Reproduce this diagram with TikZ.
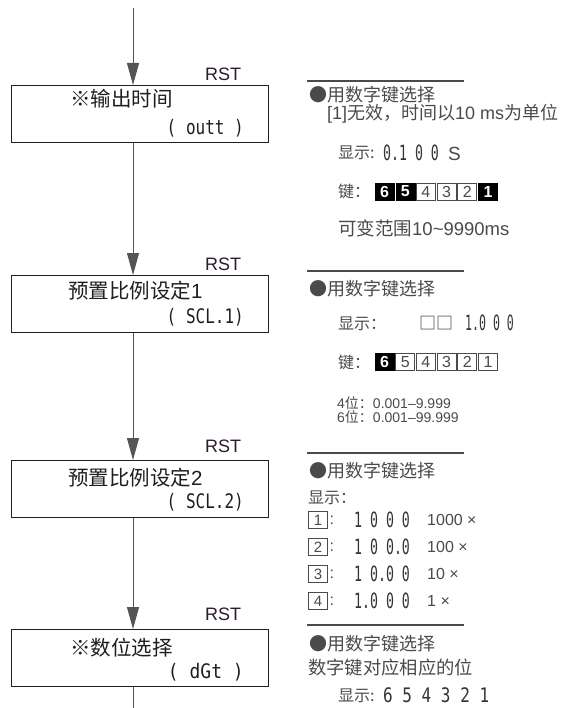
\documentclass[tikz,border=0pt]{standalone}
\usepackage{fontspec}
\usepackage{graphicx}
\setmainfont{Liberation Sans}
\newfontfamily\cjk{Noto Sans CJK SC}
\newfontfamily\segf{DejaVu Sans Mono}
\usetikzlibrary{arrows.meta}
\definecolor{boxtxt}{HTML}{1E1E1E}
\definecolor{paneltxt}{HTML}{4A4A4A}
\definecolor{segc}{HTML}{333333}
\definecolor{linec}{HTML}{555555}
\newcommand{\zh}[1]{{\cjk #1}}
\newcommand{\segtext}[3]{\scalebox{#1}[1]{\fontsize{#2}{#2}\segf #3}}
\begin{document}
\begin{tikzpicture}[x=1pt,y=-1pt,
  flowbox/.style={draw=boxtxt,line width=1pt,minimum width=257pt,minimum height=57pt,inner sep=0pt},
  boxlabel/.style={anchor=base west,inner sep=0pt,text=boxtxt,font=\fontsize{20.5}{20.5}\selectfont},
  segbox/.style={anchor=east,inner sep=0pt,text=boxtxt},
  rstlabel/.style={anchor=west,inner sep=0pt,text=boxtxt!85!violet,font=\fontsize{18}{18}\selectfont},
  ptxt/.style={anchor=base west,inner sep=0pt,text=paneltxt,font=\fontsize{18}{18}\selectfont},
  pmid/.style={anchor=base west,inner sep=0pt,text=paneltxt,font=\fontsize{16}{16}\selectfont},
  psmall/.style={anchor=base west,inner sep=0pt,text=paneltxt,font=\fontsize{14}{14}\selectfont},
  panelrule/.style={draw=paneltxt,line width=1.2pt},
  flow/.style={draw=linec,line width=1pt},
  flowarrow/.style={flow,-{Triangle[length=22pt,width=12pt]}},
  keyon/.style={fill=black,draw=black,text=white,minimum width=19pt,minimum height=17pt,inner sep=0pt,font=\bfseries\fontsize{16}{16}\selectfont},
  keyoff/.style={fill=white,draw=paneltxt,line width=0.8pt,text=paneltxt,minimum width=19pt,minimum height=17pt,inner sep=0pt,font=\fontsize{16}{16}\selectfont},
  numbox/.style={draw=paneltxt,line width=0.8pt,text=paneltxt,minimum width=19pt,minimum height=17pt,inner sep=0pt,font=\fontsize{15}{15}\selectfont},
  segnum/.style={anchor=base west,inner sep=0pt,text=segc}
]
\path[use as bounding box] (0,0) rectangle (567,708);
% flow boxes
\node[flowbox] (b1) at (139.5,114) {};
\node[flowbox] (b2) at (139.5,304) {};
\node[flowbox] (b3) at (139.5,489) {};
\node[flowbox] (b4) at (139.5,658) {};
\coordinate (top) at (133,8);
\coordinate (bot) at (133,708);
\draw[flowarrow] (top) -- (top |- b1.north);
\draw[flowarrow] (b1.south -| top) -- (b2.north -| top);
\draw[flowarrow] (b2.south -| top) -- (b3.north -| top);
\draw[flowarrow] (b3.south -| top) -- (b4.north -| top);
\draw[flow] (b4.south -| top) -- (bot);
% RST labels
\node[rstlabel] (r1) at (205,74) {RST};
\node[rstlabel] (r2) at (205,264) {RST};
\node[rstlabel] (r3) at (205,446) {RST};
\node[rstlabel] (r4) at (205,614) {RST};
% box texts
\node[boxlabel] (t1) at (70,107) {\zh{※输出时间}};
\node[segbox] (s1) at (244,128) {\segtext{0.8}{20}{( outt )}};
\node[boxlabel] (t2) at (68,298) {\zh{预置比例设定}1};
\node[segbox] (s2) at (244,317) {\segtext{0.8}{20}{( SCL.1)}};
\node[boxlabel] (t3) at (68,485) {\zh{预置比例设定}2};
\node[segbox] (s3) at (244,502) {\segtext{0.8}{20}{( SCL.2)}};
\node[boxlabel] (t4) at (70,655) {\zh{※数位选择}};
\node[segbox] (s4) at (244,672) {\segtext{0.9}{20}{( dGt )}};
% panel 1
\draw[panelrule] (307,81) -- (464,81);
\node[ptxt] (p1a) at (309,102) {\zh{●用数字键选择}};
\node[ptxt] (p1b) at (327,120) {[1]\zh{无效，时间以}10 ms\zh{为单位}};
\node[pmid] (p1c) at (338,159) {\zh{显示:}};
\node[segnum] (p1d) at (383,161) {\segtext{0.63}{21}{0.1 0 0}};
\node[ptxt,font=\fontsize{19}{19}\selectfont] (p1e) at (448,161) {S};
\node[pmid] (p1f) at (338,198) {\zh{键：}};
\foreach \d/\s [count=\i from 0] in {6/keyon,5/keyon,4/keyoff,3/keyoff,2/keyoff,1/keyon}
  \node[\s] (ka\d) at (384.5+20.7*\i,191.5) {\d};
\node[ptxt,font=\fontsize{18.5}{18.5}\selectfont] (p1g) at (338,236) {\zh{可变范围}10\textasciitilde 9990ms};
% panel 2
\draw[panelrule] (307,271) -- (464,271);
\node[ptxt] (p2a) at (309,295) {\zh{●用数字键选择}};
\node[pmid] (p2b) at (338,329) {\zh{显示：}};
\node[anchor=base west,inner sep=0pt,text=segc,font=\cjk\fontsize{17}{17}\selectfont] (p2c) at (419,329.5) {□□};
\node[segnum] (p2d) at (465,330.5) {\segtext{0.55}{21}{1.0 0 0}};
\node[pmid] (p2e) at (338,368) {\zh{键：}};
\foreach \d/\s [count=\i from 0] in {6/keyon,5/keyoff,4/keyoff,3/keyoff,2/keyoff,1/keyoff}
  \node[\s] (kb\d) at (384.5+20.7*\i,362) {\d};
\node[psmall] (p2f) at (337,408) {4\zh{位：}0.001–9.999};
\node[psmall] (p2g) at (337,422) {6\zh{位：}0.001–99.999};
% panel 3
\draw[panelrule] (307,453) -- (464,453);
\node[ptxt] (p3a) at (309,477) {\zh{●用数字键选择}};
\node[pmid] (p3b) at (308,503) {\zh{显示：}};
\foreach \n/\disp/\mult/\y in {1/1 0 0 0/1000/520, 2/1 0 0.0/100/547, 3/1 0.0 0/10/574, 4/1.0 0 0/1/601}{
  \node[numbox] (nb\n) at (318,\y) {\n};
  \node[pmid,anchor=west] (nc\n) at ([xshift=1.5pt]nb\n.east) {:};
  \node[segnum] (nd\n) at (354,\y+7.5) {\segtext{0.63}{21}{\disp}};
  \node[pmid] (ne\n) at (427,\y+5.7) {\mult{} ×};
}
% panel 4
\draw[panelrule] (307,625) -- (464,625);
\node[ptxt] (p4a) at (309,650) {\zh{●用数字键选择}};
\node[ptxt,font=\fontsize{18.3}{18.3}\selectfont] (p4b) at (308,674) {\zh{数字键对应相应的位}};
\node[pmid] (p4c) at (338,701) {\zh{显示:}};
\node[segnum] (p4d) at (383,702) {\segtext{0.8}{20}{6 5 4 3 2 1}};
\end{tikzpicture}
\end{document}
